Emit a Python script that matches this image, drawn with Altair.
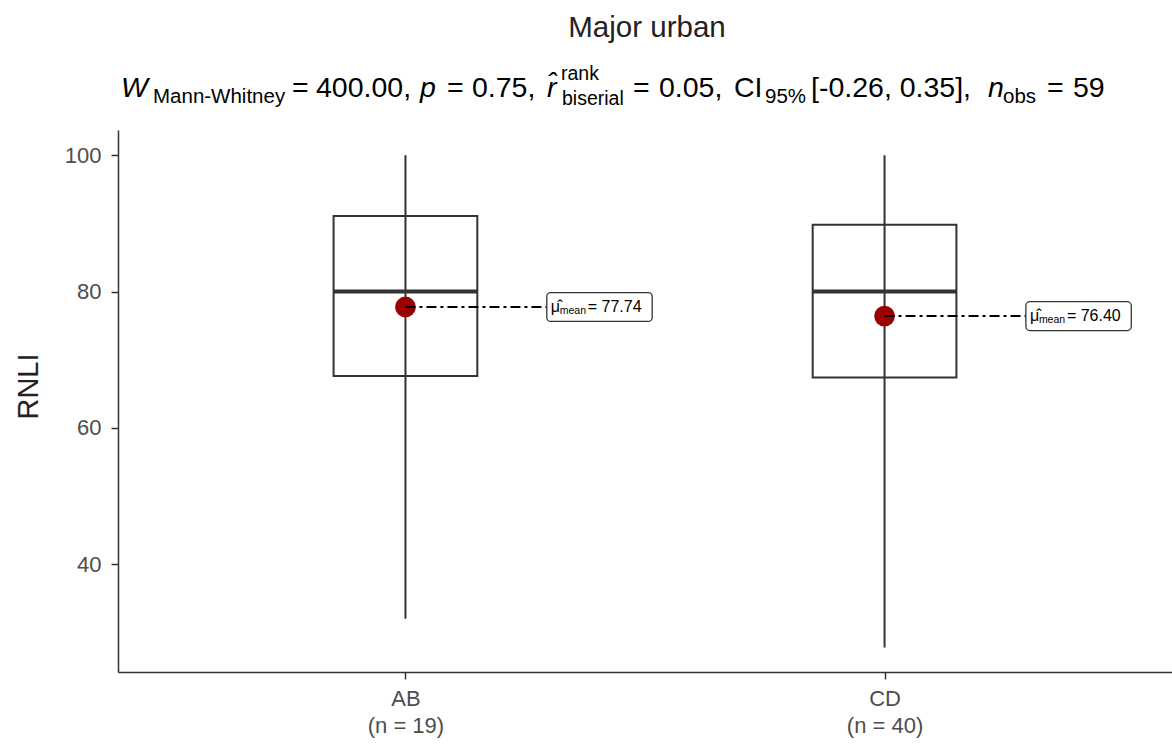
import altair as alt
import pandas as pd

# ---- data ----
groups = ["AB", "CD"]
positions = [1, 2]
n_obs = [19, 40]
whisk_lo = [32.0, 27.8]
q1 = [67.6, 67.4]
medians = [80.0, 80.0]
q3 = [91.1, 89.8]
whisk_hi = [100.0, 100.0]
means = [77.74, 76.40]

title_text = "Major urban"
y_title = "RNLI"
y_ticks = [40, 60, 80, 100]

# subtitle pieces: (text, kind)
sub_pieces = [
    ("W", "it"), ("Mann-Whitney", "sub"), ("=", "big"), ("400.00,", "big"),
    ("p", "it"), ("=", "big"), ("0.75,", "big"),
    ("r\u0302", "it"), ("rank", "sup"), ("biserial", "sub2"), ("=", "big"), ("0.05,", "big"),
    ("CI", "big"), ("95%", "sub"), ("[-0.26, 0.35],", "big"),
    ("n", "it"), ("obs", "sub"), ("=", "big"), ("59", "big"),
]
# layout (absolute page pixels) of the pieces
sub_x = [121, 153, 292, 316, 420, 447, 472, 547, 561, 562, 633, 659, 734, 765, 811, 988, 1003, 1047, 1073]
base_y = {"it": 97, "big": 97, "sub": 103, "sub2": 105, "sup": 80}
font_sz = {"it": 28.5, "big": 28.5, "sub": 20.5, "sub2": 19.5, "sup": 19.5}

LEFT, TOP, W, H = 118, 130, 1054, 542
FONT = "Liberation Sans"
DARK = "#333333"

df = pd.DataFrame({
    "group": groups, "pos": positions, "n": n_obs, "lo": whisk_lo, "q1": q1,
    "med": medians, "q3": q3, "hi": whisk_hi, "mean": means,
})

xscale = alt.Scale(domain=[0.4, 2.6], nice=False, zero=False)
yscale = alt.Scale(domain=[24.2, 103.7], nice=False, zero=False)

label_arr = "[" + ",".join(f"['{g}','(n = {n})']" for g, n in zip(groups, n_obs)) + "]"
xaxis = alt.Axis(
    values=positions, title=None, grid=False, labelExpr=f"{label_arr}[datum.value-1]",
    labelFontSize=22, labelColor="#4d4d4d", labelFont=FONT, labelLineHeight=27,
    tickSize=7, tickColor=DARK, domainColor=DARK, domainWidth=1.5, tickWidth=1.5,
    labelPadding=9,
)
yaxis = alt.Axis(
    values=y_ticks, title=y_title, grid=False, labelFontSize=22, labelColor="#4d4d4d",
    labelFont=FONT, tickSize=7, tickColor=DARK, domainColor=DARK, domainWidth=1.5,
    tickWidth=1.5, labelPadding=10, titleFont=FONT, titleFontSize=29, titleColor="#222222",
    titleFontWeight="normal", titleX=-81, titleY=256, titleAngle=-90,
    titleBaseline="alphabetic", titleAlign="center",
)

base = alt.Chart(df).transform_calculate(
    xl="datum.pos - 0.15", xr="datum.pos + 0.15",
    bl="datum.pos + 0.295", br="datum.pos + 0.515",
    by1="datum.mean - 2.12", by2="datum.mean + 2.12",
    lab="'= ' + format(datum.mean, '.2f')",
)

whisker = base.mark_rule(color=DARK, strokeWidth=2).encode(
    x=alt.X("pos:Q", scale=xscale, axis=xaxis),
    y=alt.Y("lo:Q", scale=yscale, axis=yaxis),
    y2="hi:Q",
)
box = base.mark_rect(fillOpacity=0, stroke=DARK, strokeWidth=2).encode(
    x=alt.X("xl:Q", scale=xscale), x2="xr:Q",
    y=alt.Y("q1:Q", scale=yscale), y2="q3:Q",
)
median = base.mark_rule(color=DARK, strokeWidth=4).encode(
    x=alt.X("xl:Q", scale=xscale), x2="xr:Q", y=alt.Y("med:Q", scale=yscale),
)
point = base.mark_circle(size=430, color="#9B0000", opacity=1).encode(
    x=alt.X("pos:Q", scale=xscale), y=alt.Y("mean:Q", scale=yscale),
)
connector = base.mark_rule(color="black", strokeWidth=2, strokeDash=[10, 4, 3, 4]).encode(
    x=alt.X("pos:Q", scale=xscale), x2="bl:Q", y=alt.Y("mean:Q", scale=yscale),
)
lbox = base.mark_rect(fill="white", stroke=DARK, strokeWidth=1.3, cornerRadius=4).encode(
    x=alt.X("bl:Q", scale=xscale), x2="br:Q",
    y=alt.Y("by1:Q", scale=yscale), y2="by2:Q",
)
mu = base.mark_text(text="\u03bc\u0302", fontSize=16, font=FONT, align="left",
                    baseline="alphabetic", dx=4, dy=5, color="black").encode(
    x=alt.X("bl:Q", scale=xscale), y=alt.Y("mean:Q", scale=yscale),
)
mean_sub = base.mark_text(text="mean", fontSize=10.5, font=FONT, align="left",
                          baseline="alphabetic", dx=13, dy=7, color="black").encode(
    x=alt.X("bl:Q", scale=xscale), y=alt.Y("mean:Q", scale=yscale),
)
mean_val = base.mark_text(fontSize=16, font=FONT, align="left",
                          baseline="alphabetic", dx=41, dy=5, color="black").encode(
    x=alt.X("bl:Q", scale=xscale), y=alt.Y("mean:Q", scale=yscale), text="lab:N",
)

# title texts
tdf = pd.DataFrame({
    "t": [p[0] for p in sub_pieces],
    "kind": [p[1] for p in sub_pieces],
    "px": [x - LEFT for x in sub_x],
})
tdf["py"] = tdf["kind"].map(base_y) - TOP
tdf["fs"] = tdf["kind"].map(font_sz)

def txt_layer(frame, italic=False, color="black"):
    return alt.Chart(frame).mark_text(
        align="left", baseline="alphabetic", font=FONT, color=color,
        fontStyle="italic" if italic else "normal",
    ).encode(
        x=alt.X("px:Q", scale=None, axis=None),
        y=alt.Y("py:Q", scale=None, axis=None),
        size=alt.Size("fs:Q", scale=None, legend=None),
        text="t:N",
    )

t_it = txt_layer(tdf[tdf["kind"] == "it"], italic=True)
t_rest = txt_layer(tdf[tdf["kind"] != "it"])
main_title = alt.Chart(pd.DataFrame({"t": [title_text]})).mark_text(
    align="center", baseline="alphabetic", font=FONT, fontSize=29.5, color="#222222",
).encode(
    x=alt.value((LEFT + W / 2 + 2) - LEFT), y=alt.value(37 - TOP), text="t:N",
)

chart = alt.layer(
    whisker, box, median, point, connector, lbox, mu, mean_sub, mean_val,
    t_it, t_rest, main_title,
).properties(
    width=W, height=H,
    autosize=alt.AutoSizeParams(type="none"),
    padding={"left": LEFT, "top": TOP, "right": 0, "bottom": 747 - TOP - H},
    background="white",
).configure_view(stroke=None)

chart.save("out.html", embed_options={"renderer": "svg", "actions": False})
